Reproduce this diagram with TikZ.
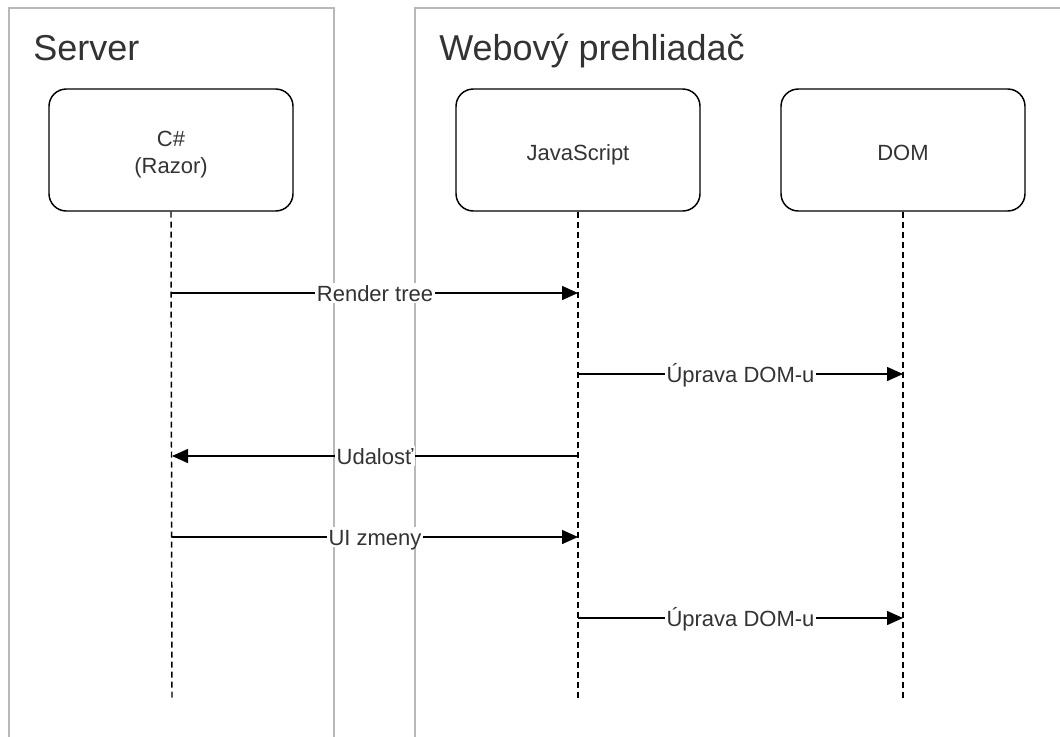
\documentclass[tikz,border=0pt]{standalone}
\usepackage{fontspec}
\setmainfont{Liberation Sans}
\usetikzlibrary{arrows.meta}
\definecolor{txt}{HTML}{333333}
\definecolor{framegray}{HTML}{B8B8B8}

\begin{document}
\begin{tikzpicture}[x=0.75pt,y=-0.75pt,
  swimframe/.style={draw=framegray, line width=0.9pt},
  title/.style={anchor=base west, inner sep=0, text=txt, font=\fontsize{27}{32}\selectfont},
  actor/.style={draw=black, line width=1.1pt, rounded corners=13pt,
    minimum width=183pt, minimum height=91.5pt, align=center, inner sep=0,
    text height=15pt, text depth=0pt,
    text=txt, font=\fontsize{16.5}{20}\selectfont},
  lifeline/.style={draw=black, line width=1.1pt, dash pattern=on 4.5pt off 3pt},
  msg/.style={draw=black, line width=1.1pt, -{Triangle[length=12pt,width=10.5pt]}},
  lbl/.style={fill=white, inner sep=1.5pt, text height=12pt, text depth=0pt,
    text=txt, font=\fontsize{16.5}{20}\selectfont}]

\useasboundingbox (0,0) rectangle (1060,736);

% swimlane frames (open at the bottom and on the right)
\draw[swimframe] (9,740) -- (9,8) -- (334,8) -- (334,740);
\draw[swimframe] (1064,8) -- (415,8) -- (415,740);
\node[title] (tserver) at (33,60) {Server};
\node[title] (tbrowser) at (439,60) {Webový prehliadač};

% participants
\node[actor, text height=34.5pt, text depth=0pt] (cs)  at (171,150) {C\#\\(Razor)};
\node[actor] (js)  at (578,150) {JavaScript};
\node[actor] (dom) at (903,150) {DOM};

% lifeline ends
\coordinate (cs-end)  at (172,700);
\coordinate (js-end)  at (578,700);
\coordinate (dom-end) at (903,700);

% message anchors on the lifelines
\coordinate (cs-1)  at (172,293);
\coordinate (js-1)  at (578,293);
\coordinate (js-2)  at (578,374);
\coordinate (dom-2) at (903,374);
\coordinate (js-3)  at (578,456);
\coordinate (cs-3)  at (172,456);
\coordinate (cs-4)  at (172,537);
\coordinate (js-4)  at (578,537);
\coordinate (js-5)  at (578,618);
\coordinate (dom-5) at (903,618);

\draw[lifeline] (cs.south)  -- (cs-end);
\draw[lifeline] (js.south)  -- (js-end);
\draw[lifeline] (dom.south) -- (dom-end);

% messages
\draw[msg] (cs-1) -- node[lbl] (m1) {Render tree} (js-1);
\draw[msg] (js-2) -- node[lbl] (m2) {Úprava DOM-u} (dom-2);
\draw[msg] (js-3) -- node[lbl] (m3) {Udalosť} (cs-3);
\draw[msg] (cs-4) -- node[lbl] (m4) {UI zmeny} (js-4);
\draw[msg] (js-5) -- node[lbl] (m5) {Úprava DOM-u} (dom-5);

\end{tikzpicture}
\end{document}
